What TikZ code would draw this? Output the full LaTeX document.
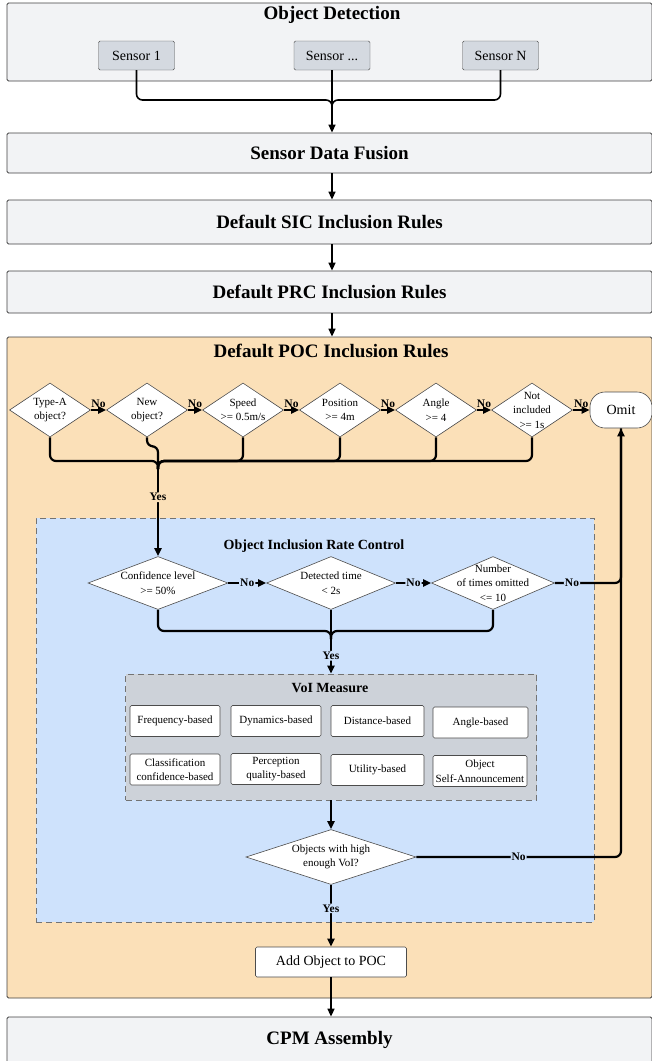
\documentclass[tikz,border=0pt]{standalone}
\usepackage{fontspec}
\setmainfont{Liberation Serif}
\usetikzlibrary{shapes.geometric,arrows.meta}

\definecolor{panelgray}{HTML}{F2F3F5}
\definecolor{sensorgray}{HTML}{D4D9E0}
\definecolor{pocbg}{HTML}{FBE0B8}
\definecolor{ratebg}{HTML}{CEE2FC}
\definecolor{voibg}{HTML}{CDD2D9}

\newcommand\titlefont{\fontsize{19}{22}\selectfont}
\newcommand\midfont{\fontsize{14}{16}\selectfont}
\newcommand\smallfont{\fontsize{11}{14.5}\selectfont}
\newcommand\tagfont{\fontsize{11.5}{13}\selectfont}

\begin{document}
\begin{tikzpicture}[x=1pt,y=-1pt,
    panel/.style={draw=black!75, fill=panelgray, rounded corners=1.5pt, line width=0.8pt, inner sep=0pt},
    paneltitle/.style={font=\titlefont\bfseries, inner sep=0pt},
    subtitle/.style={font=\midfont\bfseries, inner sep=0pt},
    sensor/.style={draw=black!70, fill=sensorgray, rounded corners=1.5pt, minimum width=76pt, minimum height=29pt, font=\midfont},
    dec/.style={shape=diamond, draw=black!70, fill=white, inner sep=0pt, line width=0.6pt},
    dlab/.style={font=\smallfont, align=center, inner sep=0pt},
    measure/.style={draw=black!70, fill=white, rounded corners=1.5pt, minimum height=31pt, align=center, font=\smallfont, inner sep=1pt, line width=0.6pt},
    link/.style={line width=2.2pt, rounded corners=6pt},
    flow/.style={link, -{Triangle[length=8pt,width=7pt]}},
    ynlabel/.style={font=\tagfont\bfseries, inner sep=1pt},
  ]
  \useasboundingbox (0,0) rectangle (652,1061);

  % top panels
  \node[panel, minimum width=645pt, minimum height=78pt] (detect) at (329.5,42) {};
  \node[paneltitle] (detecttitle) at (332,15) {Object Detection};
  \node[sensor] (s1) at (136.5,55.5) {Sensor 1};
  \node[sensor] (sm) at (332,55.5) {Sensor ...};
  \node[sensor] (sn) at (500.5,55.5) {Sensor N};

  \node[panel, minimum width=645pt, minimum height=40pt, font=\titlefont\bfseries] (fusion) at (329.5,153) {Sensor Data Fusion};
  \node[panel, minimum width=645pt, minimum height=44pt, font=\titlefont\bfseries] (sic) at (329.5,222) {Default SIC Inclusion Rules};
  \node[panel, minimum width=645pt, minimum height=42pt, font=\titlefont\bfseries] (prc) at (329.5,292) {Default PRC Inclusion Rules};

  \coordinate (j0) at (332,100);
  \draw[link, line width=1.6pt] (s1.south) |- (j0) -- ++(0,8);
  \draw[link, line width=1.6pt] (sn.south) |- (j0) -- ++(0,8);
  \draw[flow, line width=1.6pt] (sm.south) -- (sm.south |- fusion.north);
  \draw[flow, line width=1.6pt] (fusion.south -| sm.south) -- (sic.north -| sm.south);
  \draw[flow, line width=1.6pt] (sic.south -| sm.south) -- (prc.north -| sm.south);

  % POC panel
  \node[panel, fill=pocbg, minimum width=645pt, minimum height=661pt] (poc) at (329.5,667.5) {};
  \draw[flow, line width=1.6pt] (prc.south -| sm.south) -- (poc.north -| sm.south);
  \node[paneltitle] (poctitle) at (331,351) {Default POC Inclusion Rules};

  \foreach \n/\x/\txt in {d1/50/{Type-A\\object?}, d2/147/{New\\object?},
      d3/243/{Speed\\>= 0.5m/s}, d4/340/{Position\\>= 4m},
      d5/436/{Angle\\>= 4}, d6/532/{Not\\included\\>= 1s}}
    \node[dec, minimum width=81pt, minimum height=54pt, label={[dlab]center:\txt}] (\n) at (\x,410) {};
  \node[draw=black!70, fill=white, rounded corners=15pt, minimum width=62pt, minimum height=36pt, font=\midfont, line width=0.6pt] (omit) at (621,410) {Omit};

  \draw[flow] (d1.east) -- node[ynlabel, above] {No} (d2.west);
  \draw[flow] (d2.east) -- node[ynlabel, above] {No} (d3.west);
  \draw[flow] (d3.east) -- node[ynlabel, above] {No} (d4.west);
  \draw[flow] (d4.east) -- node[ynlabel, above] {No} (d5.west);
  \draw[flow] (d5.east) -- node[ynlabel, above] {No} (d6.west);
  \draw[flow] (d6.east) -- node[ynlabel, above] {No} (omit.west);

  % rate control
  \node[draw=black!55, fill=ratebg, dash pattern=on 6pt off 4pt, line width=0.8pt, minimum width=558pt, minimum height=404pt] (rate) at (315,720) {};
  \node[subtitle] (ratetitle) at (314,546) {Object Inclusion Rate Control};
  \node[dec, minimum width=140pt, minimum height=53pt, label={[dlab]center:Confidence level\\>= 50\%}] (r1) at (158,583) {};
  \node[dec, minimum width=129pt, minimum height=53pt, label={[dlab]center:Detected time\\< 2s}] (r2) at (331,583) {};
  \node[dec, minimum width=123pt, minimum height=53pt, label={[dlab]center:Number\\of times omitted\\<= 10}] (r3) at (493,583) {};

  \coordinate (j1) at (158,461);
  \foreach \n in {d1,d3,d4,d5,d6}
    \draw[link] (\n.south) |- (j1) -- ++(0,8);
  \draw[link] (d2.south) -- ++(0,9) -| (j1) -- ++(0,8);
  \draw[flow] (j1) -- node[ynlabel, fill=pocbg, pos=0.38] {Yes} (r1.north);

  \draw[flow] (r1.east) -- node[ynlabel, fill=ratebg] {No} (r2.west);
  \draw[flow] (r2.east) -- node[ynlabel, fill=ratebg] {No} (r3.west);

  % VoI measure
  \node[draw=black!55, fill=voibg, dash pattern=on 6pt off 4pt, line width=0.8pt, minimum width=411pt, minimum height=126pt] (voi) at (331,737) {};
  \node[subtitle] (voititle) at (330,688) {VoI Measure};
  \foreach \n/\x/\y/\w/\txt in {m1/175/721/90/{Frequency-based}, m2/276/721/90/{Dynamics-based},
      m3/377.5/721/93/{Distance-based}, m4/480.5/722.5/95/{Angle-based},
      m5/175/769.5/90/{Classification\\confidence-based}, m6/276/769/90/{Perception\\quality-based},
      m7/377.5/770/93/{Utility-based}, m8/480/771/94/{Object\\Self-Announcement}}
    \node[measure, minimum width=\w pt] (\n) at (\x,\y) {\txt};

  \coordinate (j2) at (331,631);
  \draw[link] (r1.south) |- (j2) -- ++(0,8);
  \draw[link] (r3.south) |- (j2) -- ++(0,8);
  \draw[flow] (r2.south) -- node[ynlabel, fill=ratebg, pos=0.72] {Yes} (voi.north);

  \node[dec, minimum width=170pt, minimum height=55pt, label={[dlab]center:Objects with high\\enough VoI?}] (q) at (331,857) {};
  \draw[flow] (voi.south) -- (q.north);
  \draw[link] (r3.east) -| node[ynlabel, fill=ratebg, pos=0.13] {No} (omit.south);
  \draw[flow] (q.east) -| node[ynlabel, fill=ratebg, pos=0.25] {No} (omit.south);

  \node[draw=black!70, fill=white, rounded corners=1.5pt, minimum width=151pt, minimum height=30pt, font=\midfont, line width=0.6pt] (add) at (331,962) {Add Object to POC};
  \draw[flow] (q.south) -- node[ynlabel, fill=ratebg, pos=0.38] {Yes} (add.north);

  % assembly
  \node[panel, minimum width=645pt, minimum height=48pt, font=\titlefont\bfseries, text depth=6pt] (cpm) at (329.5,1041) {CPM Assembly};
  \draw[flow, line width=1.6pt] (add.south) -- (add.south |- cpm.north);
\end{tikzpicture}
\end{document}
